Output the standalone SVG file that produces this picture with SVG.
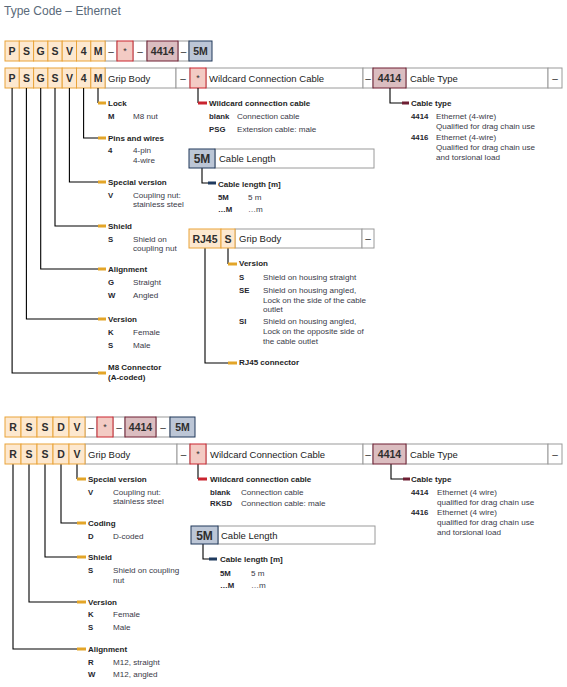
<svg xmlns="http://www.w3.org/2000/svg" width="567" height="687" viewBox="0 0 567 687">
<style>
text{font-family:'Liberation Sans',Arial,sans-serif}
.o{fill:#fde8cf;stroke:#e9a43a;stroke-width:1}
.r{fill:#f3cbc4;stroke:#c9242f;stroke-width:1}
.m{fill:#dbbdc0;stroke:#6e1f33;stroke-width:1}
.b{fill:#bcc6d6;stroke:#21395a;stroke-width:1}
.g{fill:#fff;stroke:#9a9a9a;stroke-width:1}
.c{font-size:10.5px;font-weight:bold;fill:#2e2e2e;text-anchor:middle}
.c5{font-size:12px;font-weight:bold;fill:#2e2e2e;text-anchor:middle}
.st{font-size:9px;fill:#333;text-anchor:middle}
.d{font-size:10px;fill:#333;text-anchor:middle}
.h{font-size:9.5px;fill:#222}
.l{font-size:8px;font-weight:bold;fill:#1e1e24}
.k{font-size:7.8px;font-weight:bold;fill:#26262e}
.t{font-size:8.1px;fill:#3a3a48}
.ln{stroke:#000;stroke-width:1.1;fill:none}
.bo{fill:#e3a528}.br{fill:#c9242f}.bn{fill:#1f3a5f}.bm{fill:#6e1f33}
</style>
<text x="4" y="15" font-size="12" fill="#5a6a7a">Type Code – Ethernet</text>

<g id="s1-row1">
<rect class="g" x="105" y="41" width="12" height="20"/>
<rect class="g" x="133" y="41" width="14" height="20"/>
<rect class="g" x="178" y="41" width="11" height="20"/>
<rect class="o" x="5" y="41" width="14.3" height="20"/>
<rect class="o" x="19.3" y="41" width="14.3" height="20"/>
<rect class="o" x="33.6" y="41" width="14.3" height="20"/>
<rect class="o" x="47.9" y="41" width="14.3" height="20"/>
<rect class="o" x="62.2" y="41" width="14.3" height="20"/>
<rect class="o" x="76.5" y="41" width="14.3" height="20"/>
<rect class="o" x="90.8" y="41" width="14.3" height="20"/>
<rect class="r" x="117" y="41" width="16" height="20"/>
<rect class="m" x="147" y="41" width="31" height="20"/>
<rect class="b" x="189" y="41" width="23" height="20"/>
<text class="c" x="12.1" y="55">P</text><text class="c" x="26.4" y="55">S</text><text class="c" x="40.7" y="55">G</text><text class="c" x="55" y="55">S</text><text class="c" x="69.4" y="55">V</text><text class="c" x="83.6" y="55">4</text><text class="c" x="98" y="55">M</text>
<text class="d" x="111" y="55">–</text><text class="st" x="125" y="54">*</text><text class="d" x="140" y="55">–</text><text class="c" x="162.5" y="55">4414</text><text class="d" x="183.5" y="55">–</text><text class="c" x="200.5" y="55">5M</text>
</g>

<g id="s1-row2">
<rect class="g" x="105" y="68" width="71" height="20"/>
<rect class="g" x="176" y="68" width="14" height="20"/>
<rect class="g" x="206" y="68" width="157" height="20"/>
<rect class="g" x="363" y="68" width="10" height="20"/>
<rect class="g" x="406" y="68" width="142" height="20"/>
<rect class="g" x="548" y="68" width="14" height="20"/>
<rect class="o" x="5" y="68" width="14.3" height="20"/>
<rect class="o" x="19.3" y="68" width="14.3" height="20"/>
<rect class="o" x="33.6" y="68" width="14.3" height="20"/>
<rect class="o" x="47.9" y="68" width="14.3" height="20"/>
<rect class="o" x="62.2" y="68" width="14.3" height="20"/>
<rect class="o" x="76.5" y="68" width="14.3" height="20"/>
<rect class="o" x="90.8" y="68" width="14.3" height="20"/>
<rect class="r" x="190" y="68" width="16" height="20"/>
<rect class="m" x="373" y="68" width="33" height="20"/>
<text class="c" x="12.1" y="82">P</text><text class="c" x="26.4" y="82">S</text><text class="c" x="40.7" y="82">G</text><text class="c" x="55" y="82">S</text><text class="c" x="69.4" y="82">V</text><text class="c" x="83.6" y="82">4</text><text class="c" x="98" y="82">M</text>
<text class="h" x="108" y="82">Grip Body</text>
<text class="d" x="183" y="82">–</text>
<text class="st" x="198" y="81">*</text>
<text class="h" x="209" y="82">Wildcard Connection Cable</text>
<text class="d" x="368" y="82">–</text>
<text class="c" x="389.5" y="82">4414</text>
<text class="h" x="410" y="82">Cable Type</text>
<text class="d" x="555" y="82">–</text>
</g>

<g id="connectors">
<path class="ln" d="M98,88V103M83.6,88V138H98M69.4,88V182H98M55,88V226H98M40.7,88V269H98M26.4,88V319H98M12.1,88V373H98"/>
<path class="ln" d="M198,88V103M202,168V183H208M228,248V264M205,248V363H228M390,88V103H402"/>
<path class="ln" d="M77,464V479M61,464V523H77M45,464V557H77M29,464V602H77M13,464V649H77"/>
<path class="ln" d="M198,464V479M203,544V559H209M391,464V479H403"/>
<rect class="bo" x="98" y="101.5" width="8" height="3"/>
<rect class="bo" x="98" y="136.5" width="8" height="3"/>
<rect class="bo" x="98" y="180.5" width="8" height="3"/>
<rect class="bo" x="98" y="224.5" width="8" height="3"/>
<rect class="bo" x="98" y="267.5" width="8" height="3"/>
<rect class="bo" x="98" y="317.5" width="8" height="3"/>
<rect class="bo" x="98" y="371.5" width="8" height="3"/>
<rect class="br" x="198" y="101.5" width="9" height="3"/>
<rect class="bn" x="208" y="181.5" width="8" height="3"/>
<rect class="bo" x="228" y="262.5" width="9" height="3"/>
<rect class="bo" x="228" y="361.5" width="9" height="3"/>
<rect class="bm" x="402" y="101.5" width="7" height="3"/>
<rect class="bo" x="77" y="477.5" width="9" height="3"/>
<rect class="bo" x="77" y="521.5" width="9" height="3"/>
<rect class="bo" x="77" y="555.5" width="9" height="3"/>
<rect class="bo" x="77" y="600.5" width="9" height="3"/>
<rect class="bo" x="77" y="647.5" width="9" height="3"/>
<rect class="br" x="198" y="477.5" width="9" height="3"/>
<rect class="bn" x="209" y="557.5" width="8" height="3"/>
<rect class="bm" x="403" y="477.5" width="7" height="3"/>
</g>

<g id="s1-lock"><text class="l" x="108" y="106">Lock</text><text class="k" x="108" y="119">M</text><text class="t" x="133" y="119">M8 nut</text></g>
<g id="s1-pins"><text class="l" x="108" y="141">Pins and wires</text><text class="k" x="108" y="153">4</text><text class="t" x="133" y="153">4-pin</text><text class="t" x="133" y="163">4-wire</text></g>
<g id="s1-special"><text class="l" x="108" y="185">Special version</text><text class="k" x="108" y="198">V</text><text class="t" x="133" y="198">Coupling nut:</text><text class="t" x="133" y="207">stainless steel</text></g>
<g id="s1-shield"><text class="l" x="108" y="229">Shield</text><text class="k" x="108" y="242">S</text><text class="t" x="133" y="242">Shield on</text><text class="t" x="133" y="251">coupling nut</text></g>
<g id="s1-alignment"><text class="l" x="108" y="272">Alignment</text><text class="k" x="108" y="285">G</text><text class="t" x="133" y="285">Straight</text><text class="k" x="108" y="298">W</text><text class="t" x="133" y="298">Angled</text></g>
<g id="s1-version"><text class="l" x="108" y="322">Version</text><text class="k" x="108" y="335">K</text><text class="t" x="133" y="335">Female</text><text class="k" x="108" y="348">S</text><text class="t" x="133" y="348">Male</text></g>
<g id="s1-m8"><text class="l" x="108" y="370">M8 Connector</text><text class="l" x="108" y="380">(A-coded)</text></g>

<g id="s1-wildcard"><text class="l" x="209" y="106">Wildcard connection cable</text><text class="k" x="209" y="119">blank</text><text class="t" x="237" y="119">Connection cable</text><text class="k" x="209" y="132">PSG</text><text class="t" x="237" y="132">Extension cable: male</text></g>

<g id="s1-cablelength-box">
<rect class="g" x="215" y="149" width="159" height="19"/>
<rect class="b" x="189" y="149" width="26" height="19"/>
<text class="c5" x="202" y="163">5M</text>
<text class="h" x="219" y="162">Cable Length</text>
</g>
<g id="s1-cablelength"><text class="l" x="218" y="187">Cable length [m]</text><text class="k" x="218" y="200">5M</text><text class="t" x="248" y="200">5 m</text><text class="k" x="218" y="212">…M</text><text class="t" x="248" y="212">…m</text></g>

<g id="s1-rj45-box">
<rect class="g" x="235" y="229" width="127" height="19"/>
<rect class="g" x="362" y="229" width="12" height="19"/>
<rect class="o" x="189" y="229" width="32" height="19"/>
<rect class="o" x="221" y="229" width="14" height="19"/>
<text class="c" x="205" y="242.5">RJ45</text>
<text class="c" x="228" y="242.5">S</text>
<text class="h" x="239" y="242">Grip Body</text>
<text class="d" x="368" y="242">–</text>
</g>
<g id="s1-rj45-version"><text class="l" x="239" y="266">Version</text>
<text class="k" x="239" y="280">S</text><text class="t" x="263" y="280">Shield on housing straight</text>
<text class="k" x="239" y="293">SE</text><text class="t" x="263" y="293">Shield on housing angled,</text><text class="t" x="263" y="303">Lock on the side of the cable</text><text class="t" x="263" y="312">outlet</text>
<text class="k" x="239" y="324">SI</text><text class="t" x="263" y="324">Shield on housing angled,</text><text class="t" x="263" y="334">Lock on the opposite side of</text><text class="t" x="263" y="344">the cable outlet</text></g>
<g id="s1-rj45-connector"><text class="l" x="239" y="365">RJ45 connector</text></g>

<g id="s1-cabletype"><text class="l" x="411" y="106">Cable type</text>
<text class="k" x="411" y="119">4414</text><text class="t" x="436" y="119">Ethernet (4-wire)</text><text class="t" x="436" y="129">Qualified for drag chain use</text>
<text class="k" x="411" y="140">4416</text><text class="t" x="436" y="140">Ethernet (4-wire)</text><text class="t" x="436" y="150">Qualified for drag chain use</text><text class="t" x="436" y="160">and torsional load</text></g>

<g id="s2-row1">
<rect class="g" x="85" y="417" width="12" height="20"/>
<rect class="g" x="113" y="417" width="12" height="20"/>
<rect class="g" x="156" y="417" width="14" height="20"/>
<rect class="o" x="5" y="417" width="16" height="20"/>
<rect class="o" x="21" y="417" width="16" height="20"/>
<rect class="o" x="37" y="417" width="16" height="20"/>
<rect class="o" x="53" y="417" width="16" height="20"/>
<rect class="o" x="69" y="417" width="16" height="20"/>
<rect class="r" x="97" y="417" width="16" height="20"/>
<rect class="m" x="125" y="417" width="31" height="20"/>
<rect class="b" x="170" y="417" width="25" height="20"/>
<text class="c" x="13" y="431">R</text><text class="c" x="29" y="431">S</text><text class="c" x="45" y="431">S</text><text class="c" x="61" y="431">D</text><text class="c" x="77" y="431">V</text>
<text class="d" x="91" y="431">–</text><text class="st" x="105" y="430">*</text><text class="d" x="119" y="431">–</text><text class="c" x="140.5" y="431">4414</text><text class="d" x="163" y="431">–</text><text class="c" x="182.5" y="431">5M</text>
</g>

<g id="s2-row2">
<rect class="g" x="85" y="444" width="92" height="20"/>
<rect class="g" x="177" y="444" width="13" height="20"/>
<rect class="g" x="206" y="444" width="157" height="20"/>
<rect class="g" x="363" y="444" width="10" height="20"/>
<rect class="g" x="406" y="444" width="142" height="20"/>
<rect class="g" x="548" y="444" width="14" height="20"/>
<rect class="o" x="5" y="444" width="16" height="20"/>
<rect class="o" x="21" y="444" width="16" height="20"/>
<rect class="o" x="37" y="444" width="16" height="20"/>
<rect class="o" x="53" y="444" width="16" height="20"/>
<rect class="o" x="69" y="444" width="16" height="20"/>
<rect class="r" x="190" y="444" width="16" height="20"/>
<rect class="m" x="373" y="444" width="33" height="20"/>
<text class="c" x="13" y="458">R</text><text class="c" x="29" y="458">S</text><text class="c" x="45" y="458">S</text><text class="c" x="61" y="458">D</text><text class="c" x="77" y="458">V</text>
<text class="h" x="88" y="458">Grip Body</text>
<text class="d" x="183.5" y="458">–</text>
<text class="st" x="198" y="457">*</text>
<text class="h" x="210" y="458">Wildcard Connection Cable</text>
<text class="d" x="368" y="458">–</text>
<text class="c" x="389.5" y="458">4414</text>
<text class="h" x="410" y="458">Cable Type</text>
<text class="d" x="555" y="458">–</text>
</g>

<g id="s2-special"><text class="l" x="88" y="482">Special version</text><text class="k" x="88" y="495">V</text><text class="t" x="113" y="495">Coupling nut:</text><text class="t" x="113" y="504">stainless steel</text></g>
<g id="s2-coding"><text class="l" x="88" y="526">Coding</text><text class="k" x="88" y="539">D</text><text class="t" x="113" y="539">D-coded</text></g>
<g id="s2-shield"><text class="l" x="88" y="560">Shield</text><text class="k" x="88" y="573">S</text><text class="t" x="113" y="573">Shield on coupling</text><text class="t" x="113" y="583">nut</text></g>
<g id="s2-version"><text class="l" x="88" y="605">Version</text><text class="k" x="88" y="617">K</text><text class="t" x="113" y="617">Female</text><text class="k" x="88" y="630">S</text><text class="t" x="113" y="630">Male</text></g>
<g id="s2-alignment"><text class="l" x="88" y="652">Alignment</text><text class="k" x="88" y="665">R</text><text class="t" x="113" y="665">M12, straight</text><text class="k" x="88" y="677">W</text><text class="t" x="113" y="677">M12, angled</text></g>

<g id="s2-wildcard"><text class="l" x="210" y="482">Wildcard connection cable</text><text class="k" x="210" y="495">blank</text><text class="t" x="241" y="495">Connection cable</text><text class="k" x="210" y="506">RKSD</text><text class="t" x="241" y="506">Connection cable: male</text></g>

<g id="s2-cablelength-box">
<rect class="g" x="218" y="526" width="157" height="18"/>
<rect class="b" x="191" y="526" width="27" height="18"/>
<text class="c5" x="204.5" y="539.5">5M</text>
<text class="h" x="221" y="538.5">Cable Length</text>
</g>
<g id="s2-cablelength"><text class="l" x="220" y="562">Cable length [m]</text><text class="k" x="220" y="576">5M</text><text class="t" x="251" y="576">5 m</text><text class="k" x="220" y="588">…M</text><text class="t" x="251" y="588">…m</text></g>

<g id="s2-cabletype"><text class="l" x="411" y="482">Cable type</text>
<text class="k" x="411" y="495">4414</text><text class="t" x="437" y="495">Ethernet (4 wire)</text><text class="t" x="437" y="505">qualified for drag chain use</text>
<text class="k" x="411" y="515">4416</text><text class="t" x="437" y="515">Ethernet (4 wire)</text><text class="t" x="437" y="525">qualified for drag chain use</text><text class="t" x="437" y="535">and torsional load</text></g>
</svg>
